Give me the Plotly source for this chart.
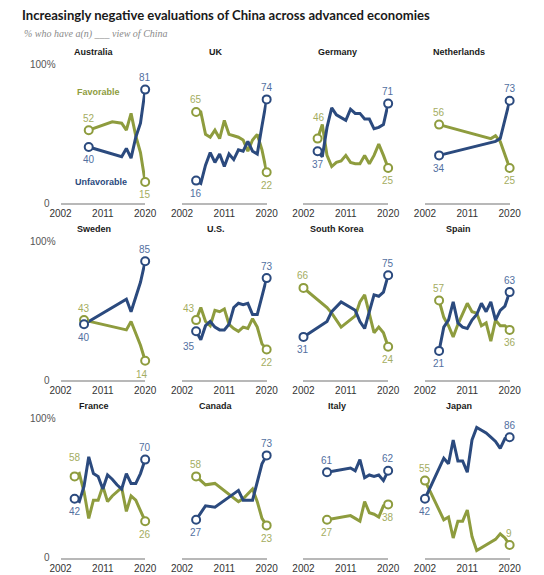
import plotly.graph_objects as go

W, H = 544, 575

# ---------------- data ----------------
tick_years = [2002, 2011, 2020]
tick_labels = ["2002", "2011", "2020"]

aus_years = [2008, 2013, 2015, 2016, 2017, 2018, 2019, 2020]
aus_fav = [52, 58, 57, 52, 64, 48, 36, 15]
aus_unfav = [40, 35, 33, 39, 32, 47, 57, 81]

uk_years = list(range(2005, 2021))
uk_fav = [65, 65, 49, 47, 52, 46, 59, 49, 48, 47, 45, 37, 45, 49, 38, 22]
uk_unfav = [16, 14, 27, 36, 29, 35, 26, 35, 31, 38, 37, 44, 37, 35, 55, 74]

ger_years = list(range(2005, 2021))
ger_fav = [46, 56, 34, 26, 29, 30, 34, 29, 28, 28, 34, 28, 34, 42, 34, 25]
ger_unfav = [37, 33, 54, 68, 63, 61, 59, 67, 64, 64, 60, 60, 53, 54, 56, 71]

ned_years = [2005, 2016, 2017, 2018, 2020]
ned_fav = [56, 46, 48, 44, 25]
ned_unfav = [34, 43, 44, 46, 73]

swe_years = [2007, 2016, 2017, 2019, 2020]
swe_fav = [43, 36, 42, 25, 14]
swe_unfav = [40, 58, 49, 70, 85]

us_years = list(range(2005, 2021))
us_fav = [43, 52, 42, 39, 50, 49, 51, 40, 37, 35, 38, 37, 44, 38, 26, 22]
us_unfav = [35, 29, 39, 42, 38, 36, 36, 40, 52, 55, 54, 55, 47, 47, 60, 73]

kor_years = [2002, 2007, 2008, 2010, 2013, 2014, 2015, 2017, 2018, 2019, 2020]
kor_fav = [66, 52, 48, 38, 46, 56, 61, 34, 38, 34, 24]
kor_unfav = [31, 42, 49, 56, 50, 42, 37, 61, 60, 63, 75]

esp_years = list(range(2005, 2021))
esp_fav = [57, 45, 39, 31, 40, 47, 55, 49, 48, 39, 41, 28, 43, 39, 39, 36]
esp_unfav = [21, 38, 43, 56, 41, 38, 37, 43, 47, 55, 49, 56, 43, 50, 53, 63]

fra_years = list(range(2005, 2021))
fra_fav = [58, 60, 47, 28, 41, 41, 51, 40, 44, 47, 50, 33, 44, 41, 33, 26]
fra_unfav = [42, 40, 51, 72, 60, 58, 49, 59, 56, 52, 49, 60, 53, 53, 60, 70]

can_years = [2005, 2007, 2009, 2014, 2015, 2017, 2018, 2019, 2020]
can_fav = [58, 52, 53, 40, 42, 49, 40, 28, 23]
can_unfav = [27, 37, 36, 48, 41, 41, 54, 67, 73]

ita_years = [2007, 2012, 2013, 2014, 2015, 2016, 2017, 2018, 2019, 2020]
ita_fav = [27, 30, 28, 26, 40, 32, 31, 29, 37, 38]
ita_unfav = [61, 64, 62, 70, 57, 59, 58, 59, 55, 62]

jpn_years = [2002, 2006, 2007, 2008, 2009, 2010, 2011, 2012, 2013, 2014, 2015, 2016, 2017, 2018, 2019, 2020]
jpn_fav = [55, 27, 29, 14, 26, 26, 34, 15, 5, 7, 9, 11, 13, 17, 14, 9]
jpn_unfav = [42, 71, 67, 84, 69, 69, 61, 84, 93, 91, 89, 86, 83, 78, 85, 86]

panels = [
    ("Australia", aus_years, aus_fav, aus_unfav),
    ("UK", uk_years, uk_fav, uk_unfav),
    ("Germany", ger_years, ger_fav, ger_unfav),
    ("Netherlands", ned_years, ned_fav, ned_unfav),
    ("Sweden", swe_years, swe_fav, swe_unfav),
    ("U.S.", us_years, us_fav, us_unfav),
    ("South Korea", kor_years, kor_fav, kor_unfav),
    ("Spain", esp_years, esp_fav, esp_unfav),
    ("France", fra_years, fra_fav, fra_unfav),
    ("Canada", can_years, can_fav, can_unfav),
    ("Italy", ita_years, ita_fav, ita_unfav),
    ("Japan", jpn_years, jpn_fav, jpn_unfav),
]

# label placement tweaks: (panel, series, point index) -> (xshift, yshift)
label_shift = {
    ("Germany", "fav", 0): (1, 21),
    ("France", "fav", 0): (0, 19),
    ("U.S.", "fav", 0): (-7, 12),
    ("U.S.", "unf", 0): (-7, -15),
    ("Japan", "fav", -1): (-1, 12),
    ("Sweden", "fav", -1): (-3, -14),
}

# ---------------- style ----------------
BLUE = "#2b4a7e"
GREEN = "#8e9c3e"
BLUE_T = "#52709f"
GREEN_T = "#a4ad5f"
FONT = "Liberation Sans, Arial, sans-serif"
TITLE_FONT = "Lato, Liberation Sans, sans-serif"

fig = go.Figure()
layout_axes = {}
annotations = []

for i, (name, yrs, fav, unf) in enumerate(panels):
    r, c = divmod(i, 4)
    n = i + 1
    xa = "x" if n == 1 else f"x{n}"
    ya = "y" if n == 1 else f"y{n}"
    x0 = 51.7 + 126.85 * c
    x1 = x0 + 88.4
    y0 = 203 + 177.3 * r
    y100 = y0 - 140
    layout_axes["xaxis" if n == 1 else f"xaxis{n}"] = dict(
        domain=[x0 / W, x1 / W], range=[2002, 2020], anchor=ya,
        showline=True, linecolor="#b8b8b8", linewidth=2,
        tickvals=tick_years, ticktext=tick_labels, ticks="",
        showgrid=False, zeroline=False,
        tickfont=dict(size=10, color="#333333", family=FONT), fixedrange=True)
    layout_axes["yaxis" if n == 1 else f"yaxis{n}"] = dict(
        domain=[1 - y0 / H, 1 - y100 / H], range=[0, 100], anchor=xa,
        visible=False, fixedrange=True)

    for vals, col in ((fav, GREEN), (unf, BLUE)):
        fig.add_trace(go.Scatter(
            x=yrs, y=vals, mode="lines", line=dict(color=col, width=3),
            xaxis=xa, yaxis=ya, cliponaxis=False, hoverinfo="skip",
            showlegend=False))
    for vals, col in ((fav, GREEN), (unf, BLUE)):
        fig.add_trace(go.Scatter(
            x=[yrs[0], yrs[-1]], y=[vals[0], vals[-1]], mode="markers",
            marker=dict(size=8, color="white", line=dict(color=col, width=2)),
            xaxis=xa, yaxis=ya, cliponaxis=False, hoverinfo="skip",
            showlegend=False))

    # value labels at first and last points
    for idx in (0, -1):
        f, u = fav[idx], unf[idx]
        for key, v, other, tc in (("fav", f, u, GREEN_T), ("unf", u, f, BLUE_T)):
            xs, ys = label_shift.get((name, key, idx), (0, 12 if v >= other else -13))
            annotations.append(dict(
                x=yrs[idx], y=v, xref=xa, yref=ya, text=str(v),
                showarrow=False, xshift=xs, yshift=ys,
                xanchor="center", yanchor="middle",
                font=dict(size=10, color=tc, family=FONT)))

    # panel title
    annotations.append(dict(
        x=((x0 + x1) / 2 - 9) / W, y=1 - (y0 - 151.5) / H,
        xref="paper", yref="paper", text=f"<b>{name}</b>", showarrow=False,
        xanchor="center", yanchor="middle",
        font=dict(size=9, color="#1a1a1a", family=FONT)))

    # y labels on first column
    if c == 0:
        annotations.append(dict(
            x=49 / W, y=1 - (y100 + 1) / H, xref="paper", yref="paper",
            text="100%", showarrow=False, xanchor="right", yanchor="middle",
            font=dict(size=10, color="#555555", family=FONT)))
        annotations.append(dict(
            x=43 / W, y=1 - y0 / H, xref="paper", yref="paper",
            text="0", showarrow=False, xanchor="right", yanchor="middle",
            font=dict(size=10, color="#555555", family=FONT)))

# series labels in the first panel
annotations.append(dict(x=2010.1, y=79.5, xref="x", yref="y", text="<b>Favorable</b>",
                        showarrow=False, xanchor="center", yanchor="middle",
                        font=dict(size=9, color=GREEN, family=FONT)))
annotations.append(dict(x=2010.7, y=15, xref="x", yref="y", text="<b>Unfavorable</b>",
                        showarrow=False, xanchor="center", yanchor="middle",
                        font=dict(size=9, color=BLUE, family=FONT)))

# subtitle
annotations.append(dict(
    x=11 / W, y=1 - 34 / H, xref="paper", yref="paper", xanchor="left", yanchor="middle",
    text="<i>% who have a(n) ___ view of China</i>", showarrow=False,
    font=dict(size=10, color="#8a8a8a", family="Liberation Serif, serif")))

fig.update_layout(
    width=W, height=H, margin=dict(l=0, r=0, t=0, b=0),
    paper_bgcolor="white", plot_bgcolor="white",
    title=dict(text="<b>Increasingly negative evaluations of China across advanced economies</b>",
               x=22 / W, xanchor="left", y=1 - 15 / H, yanchor="middle",
               font=dict(size=13.1, color="#1a1a1a", family=TITLE_FONT)),
    annotations=annotations,
    **layout_axes,
)

fig.write_html("out.html", config={"displayModeBar": False},
               post_script="document.body.style.margin='0';document.body.style.overflow='hidden';")
